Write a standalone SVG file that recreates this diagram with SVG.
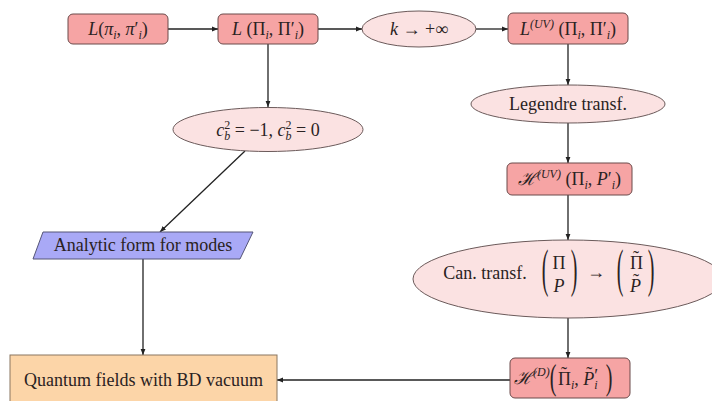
<svg xmlns="http://www.w3.org/2000/svg" width="712" height="401" viewBox="0 0 712 401">
<defs>
<marker id="ah" viewBox="0 0 10 10" refX="10" refY="5" markerWidth="6" markerHeight="6" orient="auto" markerUnits="userSpaceOnUse">
<path d="M0,1 L10,5 L0,9 Z" fill="#222"/>
</marker>
<style>
.box{fill:#F6A4A4;stroke:#6b4a4a;stroke-width:1}
.ell{fill:#FBE2E2;stroke:#6b5a5a;stroke-width:1}
.par{fill:#A9A9F6;stroke:#555577;stroke-width:1}
.qbox{fill:#FCD5A8;stroke:#8a7660;stroke-width:1}
.c{stroke:#222;stroke-width:1.3;fill:none;marker-end:url(#ah)}
text{font-family:"Liberation Serif","DejaVu Serif",serif;font-size:18px;fill:#2a2222;text-anchor:middle}
.i{font-style:italic}
.s{font-size:12px}
.st{text-anchor:start}
.tl{font-size:18px;font-style:normal}
.pr{font-size:20px}
</style>
</defs>
<rect x="0" y="0" width="712" height="401" fill="#ffffff"/>
<g id="connectors">
<line class="c" x1="168" y1="29" x2="218" y2="29"/>
<line class="c" x1="318" y1="29" x2="362" y2="29"/>
<line class="c" x1="476" y1="29" x2="508" y2="29"/>
<line class="c" x1="268" y1="44" x2="268" y2="107"/>
<line class="c" x1="568" y1="44" x2="568" y2="85"/>
<line class="c" x1="568" y1="123" x2="568" y2="163"/>
<line class="c" x1="568" y1="195" x2="568" y2="240"/>
<line class="c" x1="568" y1="318" x2="568" y2="358"/>
<line class="c" x1="510" y1="380" x2="277" y2="380"/>
<line class="c" x1="245" y1="151" x2="160" y2="232"/>
<line class="c" x1="143" y1="259" x2="143" y2="355"/>
</g>
<g id="n1">
<rect class="box" x="68" y="14" width="100" height="30" rx="5"/>
<text x="118" y="35"><tspan class="i">L</tspan>(<tspan class="i">π</tspan><tspan class="s i" dy="4">i</tspan><tspan dy="-4">, </tspan><tspan class="i">π</tspan>′<tspan class="s i" dy="4">i</tspan><tspan dy="-4">)</tspan></text>
</g>
<g id="n2">
<rect class="box" x="218" y="14" width="100" height="30" rx="5"/>
<text x="268" y="35"><tspan class="i">L</tspan> (Π<tspan class="s i" dy="4">i</tspan><tspan dy="-4">, Π′</tspan><tspan class="s i" dy="4">i</tspan><tspan dy="-4">)</tspan></text>
</g>
<g id="n3">
<ellipse class="ell" cx="419" cy="29" rx="57" ry="18"/>
<text x="419" y="35"><tspan class="i">k</tspan> → +∞</text>
</g>
<g id="n4">
<rect class="box" x="508" y="13" width="120" height="31" rx="5"/>
<text x="568" y="35"><tspan class="i">L</tspan><tspan class="s i" dy="-7">(UV)</tspan><tspan dy="7"> (Π</tspan><tspan class="s i" dy="4">i</tspan><tspan dy="-4">, Π′</tspan><tspan class="s i" dy="4">i</tspan><tspan dy="-4">)</tspan></text>
</g>
<g id="n5">
<ellipse class="ell" cx="268" cy="129.5" rx="95" ry="22"/>
<text x="268" y="136"><tspan class="i">c</tspan><tspan class="s" dy="-7">2</tspan><tspan class="s i" dx="-6" dy="11">b</tspan><tspan dy="-4"> = −1, </tspan><tspan class="i">c</tspan><tspan class="s" dy="-7">2</tspan><tspan class="s i" dx="-6" dy="11">b</tspan><tspan dy="-4"> = 0</tspan></text>
</g>
<g id="n6">
<ellipse class="ell" cx="568" cy="104" rx="97" ry="19"/>
<text x="568" y="110">Legendre transf.</text>
</g>
<g id="n7">
<rect class="box" x="507" y="163" width="125" height="32" rx="5"/>
<text x="569.5" y="185"><tspan class="i">ℋ</tspan><tspan class="s i" dy="-7">(UV)</tspan><tspan dy="7"> (Π</tspan><tspan class="s i" dy="4">i</tspan><tspan dy="-4">, </tspan><tspan class="i">P</tspan>′<tspan class="s i" dy="4">i</tspan><tspan dy="-4">)</tspan></text>
</g>
<g id="n8">
<ellipse class="ell" cx="568" cy="279" rx="155" ry="39"/>
<text x="485" y="279">Can. transf.</text>
<text class="pr" transform="translate(545,286) scale(1,2.6)" x="0" y="0">(</text>
<text x="559" y="269">Π</text>
<text x="559" y="292" class="i">P</text>
<text class="pr" transform="translate(574,286) scale(1,2.6)" x="0" y="0">)</text>
<text x="596" y="278">→</text>
<text class="pr" transform="translate(620,286) scale(1,2.6)" x="0" y="0">(</text>
<text class="st" x="630" y="269">Π<tspan class="tl" dx="-10" dy="-5">˜</tspan></text>
<text class="st i" x="630" y="292">P<tspan class="tl" dx="-8" dy="-5">˜</tspan></text>
<text class="pr" transform="translate(651,286) scale(1,2.6)" x="0" y="0">)</text>
</g>
<g id="n9">
<rect class="box" x="510" y="358" width="120" height="40" rx="5"/>
<text class="st i" x="514" y="384">ℋ<tspan class="s" dy="-8">(D)</tspan></text>
<text class="pr" transform="translate(553,389) scale(1,1.8)" x="0" y="0">(</text>
<text class="st" x="558" y="385">Π<tspan class="tl" dx="-10" dy="-5">˜</tspan><tspan class="s i" dx="4" dy="9">i</tspan><tspan dy="-4">, </tspan><tspan class="i">P</tspan><tspan class="tl" dx="-8" dy="-5">˜</tspan><tspan dx="2" dy="2">′</tspan><tspan class="s i" dx="-4" dy="7">i</tspan></text>
<text class="pr" transform="translate(609,389) scale(1,1.8)" x="0" y="0">)</text>
</g>
<g id="n10">
<polygon class="par" points="43,232 253,232 240,259 33,259"/>
<text x="143" y="251">Analytic form for modes</text>
</g>
<g id="n11">
<rect class="qbox" x="10" y="355" width="267" height="52"/>
<text x="143.5" y="386">Quantum fields with BD vacuum</text>
</g>
</svg>
